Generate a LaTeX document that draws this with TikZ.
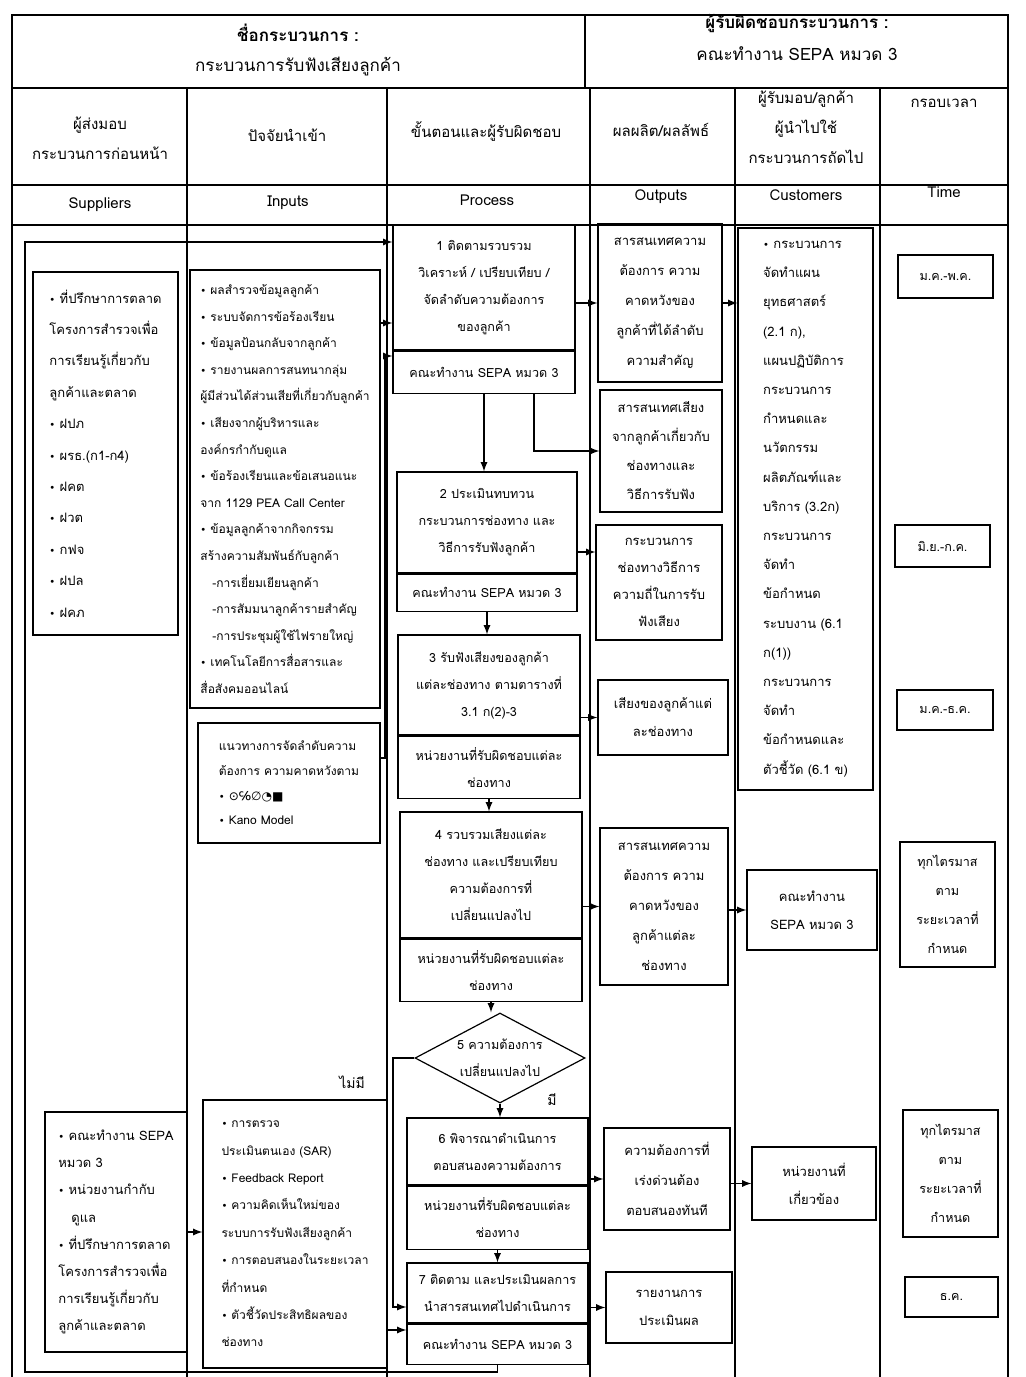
\documentclass[tikz,border=0pt]{standalone}
\usepackage{fontspec}
\setmainfont[Script=Thai]{Loma}
\newfontfamily\symfont{DejaVu Sans}
\usetikzlibrary{positioning}
\usetikzlibrary{arrows}
\usetikzlibrary{shapes.geometric}
\newcommand{\bul}{{\symfont\tiny •}\ }
\tikzset{every node/.style={align=center,
           font=\fontsize{6.3}{13.5}\selectfont},
         box/.style={draw, line width=0.6pt, inner sep=1pt}, % plain box
         listbox/.style={box, align=left, inner sep=3pt},
         headtext/.style={font=\fontsize{7.5}{15}\selectfont},
         decision/.style={draw, line width=0.6pt, diamond, aspect=2,
           inner sep=0pt, minimum width=85pt, minimum height=45pt},
         grid/.style={line width=0.6pt},
         arr/.style={draw, ->, >=latex, line width=0.6pt}}

\begin{document}
\begin{tikzpicture}[x=0.5pt, y=-0.5pt]
  \useasboundingbox (0,0) rectangle (1026,1377);

  % table frame
  \draw[grid] (12,1377) -- (12,15) -- (1008,15) -- (1008,1377);
  \draw[grid] (12,88) -- (1008,88);
  \draw[grid] (12,185) -- (1008,185);
  \draw[grid] (12,225) -- (1008,225);
  \draw[grid] (585,15) -- (585,88);
  \foreach \cx in {187,387,590,735,880}
    \draw[grid] (\cx,88) -- (\cx,1377);

  % heading
  \node[font=\fontsize{8.5}{15}\selectfont] (pname) at (298,50)
    {\bfseries ชื่อกระบวนการ :\\ กระบวนการรับฟังเสียงลูกค้า};
  \node[font=\fontsize{8.5}{16}\selectfont] (powner) at (797,37)
    {\bfseries ผู้รับผิดชอบกระบวนการ :\\ คณะทำงาน SEPA หมวด 3};

  \node[headtext] (hsup) at (100,138) {ผู้ส่งมอบ\\กระบวนการก่อนหน้า};
  \node[headtext] (hinp) at (287,135) {ปัจจัยนำเข้า};
  \node[headtext] (hpro) at (486,132) {ขั้นตอนและผู้รับผิดชอบ};
  \node[headtext] (hout) at (661,130) {ผลผลิต/ผลลัพธ์};
  \node[headtext] (hcus) at (806,127) {ผู้รับมอบ/ลูกค้า\\ผู้นำไปใช้\\กระบวนการถัดไป};
  \node[headtext] (htim) at (944,103) {กรอบเวลา};

  \node[headtext] (esup) at (100,205) {Suppliers};
  \node[headtext] (einp) at (288,203) {Inputs};
  \node[headtext] (epro) at (487,200) {Process};
  \node[headtext] (eout) at (661,197) {Outputs};
  \node[headtext] (ecus) at (806,195) {Customers};
  \node[headtext] (etim) at (944,192) {Time};

  % suppliers
  \node[listbox, minimum width=72.5pt, minimum height=181.5pt,
    font=\fontsize{6.5}{15.7}\selectfont] (sup1) at (105.5,453.5) {
    \bul ที่ปรึกษาการตลาด\\ โครงการสำรวจเพื่อ\\ การเรียนรู้เกี่ยวกับ\\
    ลูกค้าและตลาด\\ \bul ฝปภ\\ \bul ผรธ.(ก1-ก4)\\ \bul ฝคต\\
    \bul ฝวต\\ \bul กฟจ\\ \bul ฝปล\\ \bul ฝคภ};
  \node[listbox, minimum width=71pt, minimum height=120pt,
    font=\fontsize{6.5}{13.6}\selectfont] (sup2) at (116,1232) {
    \bul คณะทำงาน SEPA\\ หมวด 3\\ \bul หน่วยงานกำกับ\\ \quad ดูแล\\
    \bul ที่ปรึกษาการตลาด\\ โครงการสำรวจเพื่อ\\ การเรียนรู้เกี่ยวกับ\\
    ลูกค้าและตลาด};

  % inputs
  \node[listbox, minimum width=95pt, minimum height=219pt,
    font=\fontsize{6}{13.3}\selectfont] (inp1) at (285,489) {
    \bul ผลสำรวจข้อมูลลูกค้า\\ \bul ระบบจัดการข้อร้องเรียน\\
    \bul ข้อมูลป้อนกลับจากลูกค้า\\ \bul รายงานผลการสนทนากลุ่ม\\
    ผู้มีส่วนได้ส่วนเสียที่เกี่ยวกับลูกค้า\\ \bul เสียงจากผู้บริหารและ\\
    องค์กรกำกับดูแล\\ \bul ข้อร้องเรียนและข้อเสนอแนะ\\
    จาก 1129 PEA Call Center\\ \bul ข้อมูลลูกค้าจากกิจกรรม\\
    สร้างความสัมพันธ์กับลูกค้า\\ \quad -การเยี่ยมเยียนลูกค้า\\
    \quad -การสัมมนาลูกค้ารายสำคัญ\\ \quad -การประชุมผู้ใช้ไฟรายใหญ่\\
    \bul เทคโนโลยีการสื่อสารและ\\ สื่อสังคมออนไลน์};
  \node[listbox, minimum width=91pt, minimum height=60pt,
    font=\fontsize{6}{12.3}\selectfont] (inp2) at (289,783) {
    แนวทางการจัดลำดับความ\\ ต้องการ ความคาดหวังตาม\\
    \bul {\symfont ⊙℅∅◔■}\\ \bul Kano Model};
  \node[listbox, minimum width=92pt, minimum height=134pt,
    font=\fontsize{6}{13.7}\selectfont] (inp3) at (295,1234) {
    \bul การตรวจ\\ ประเมินตนเอง (SAR)\\ \bul Feedback Report\\
    \bul ความคิดเห็นใหม่ของ\\ ระบบการรับฟังเสียงลูกค้า\\
    \bul การตอบสนองในระยะเวลา\\ ที่กำหนด\\ \bul ตัวชี้วัดประสิทธิผลของ\\
    ช่องทาง};

  % process steps
  \node[box, minimum width=91pt, minimum height=62.5pt] (step1) at (484,287.5)
    {1 ติดตามรวบรวม\\ วิเคราะห์ / เปรียบเทียบ /\\ จัดลำดับความต้องการ\\ ของลูกค้า};
  \node[box, below=0pt of step1, minimum width=91pt, minimum height=21pt] (resp1)
    {คณะทำงาน SEPA หมวด 3};
  \node[box, minimum width=90pt, minimum height=50.5pt] (step2) at (487,522.5)
    {2 ประเมินทบทวน\\ กระบวนการช่องทาง และ\\ วิธีการรับฟังลูกค้า};
  \node[box, below=0pt of step2, minimum width=90pt, minimum height=18.5pt] (resp2)
    {คณะทำงาน SEPA หมวด 3};
  \node[box, minimum width=91pt, minimum height=50pt] (step3) at (489,685)
    {3 รับฟังเสียงของลูกค้า\\ แต่ละช่องทาง ตามตารางที่\\ 3.1 ก(2)-3};
  \node[box, below=0pt of step3, minimum width=91pt, minimum height=31pt] (resp3)
    {หน่วยงานที่รับผิดชอบแต่ละ\\ ช่องทาง};
  \node[box, minimum width=91pt, minimum height=63pt] (step4) at (491,875)
    {4 รวบรวมเสียงแต่ละ\\ ช่องทาง และเปรียบเทียบ\\ ความต้องการที่\\ เปลี่ยนแปลงไป};
  \node[box, below=0pt of step4, minimum width=91pt, minimum height=31pt] (resp4)
    {หน่วยงานที่รับผิดชอบแต่ละ\\ ช่องทาง};
  \node[decision] (dec5) at (500,1058) {5 ความต้องการ\\ เปลี่ยนแปลงไป};
  \node[box, minimum width=90.5pt, minimum height=33.5pt] (step6) at (497.5,1151.5)
    {6 พิจารณาดำเนินการ\\ ตอบสนองความต้องการ};
  \node[box, below=0pt of step6, minimum width=90.5pt, minimum height=31.5pt] (resp6)
    {หน่วยงานที่รับผิดชอบแต่ละ\\ ช่องทาง};
  \node[box, minimum width=90.5pt, minimum height=30pt] (step7) at (497.5,1293)
    {7 ติดตาม และประเมินผลการ\\ นำสารสนเทศไปดำเนินการ};
  \node[box, below=0pt of step7, minimum width=90.5pt, minimum height=20pt] (resp7)
    {คณะทำงาน SEPA หมวด 3};

  \node[font=\fontsize{7}{8}\selectfont] (yes) at (552,1100) {มี};
  \node[font=\fontsize{7}{8}\selectfont] (no) at (352,1082) {ไม่มี};

  % outputs
  \node[box, minimum width=62pt, minimum height=79pt,
    font=\fontsize{6.5}{15}\selectfont] (out1) at (660,303)
    {สารสนเทศความ\\ ต้องการ ความ\\ คาดหวังของ\\ ลูกค้าที่ได้ลำดับ\\ ความสำคัญ};
  \node[box, minimum width=61pt, minimum height=61pt,
    font=\fontsize{6.5}{14.5}\selectfont] (out2) at (661,451)
    {สารสนเทศเสียง\\ จากลูกค้าเกี่ยวกับ\\ ช่องทางและ\\ วิธีการรับฟัง};
  \node[box, minimum width=63pt, minimum height=57.5pt,
    font=\fontsize{6.5}{13.5}\selectfont] (out3) at (659,582.5)
    {กระบวนการ\\ ช่องทางวิธีการ\\ ความถี่ในการรับ\\ ฟังเสียง};
  \node[box, minimum width=65pt, minimum height=37.5pt,
    font=\fontsize{6.5}{14}\selectfont] (out4) at (663,717.5)
    {เสียงของลูกค้าแต่\\ ละช่องทาง};
  \node[box, minimum width=64pt, minimum height=78.5pt,
    font=\fontsize{6.5}{15}\selectfont] (out5) at (664,906.5)
    {สารสนเทศความ\\ ต้องการ ความ\\ คาดหวังของ\\ ลูกค้าแต่ละ\\ ช่องทาง};
  \node[box, minimum width=63pt, minimum height=51pt,
    font=\fontsize{6.5}{15}\selectfont] (out6) at (667,1179)
    {ความต้องการที่\\ เร่งด่วนต้อง\\ ตอบสนองทันที};
  \node[box, minimum width=63pt, minimum height=35.5pt,
    font=\fontsize{6.5}{14}\selectfont] (out7) at (669,1307.5)
    {รายงานการ\\ ประเมินผล};

  % customers
  \node[listbox, minimum width=67.5pt, minimum height=281pt,
    font=\fontsize{6.5}{14.6}\selectfont] (cus1) at (805.5,509) {
    \bul กระบวนการ\\ จัดทำแผน\\ ยุทธศาสตร์\\ (2.1 ก),\\ แผนปฏิบัติการ\\
    กระบวนการ\\ กำหนดและ\\ นวัตกรรม\\ ผลิตภัณฑ์และ\\ บริการ (3.2ก)\\
    กระบวนการ\\ จัดทำ\\ ข้อกำหนด\\ ระบบงาน (6.1\\ ก(1))\\ กระบวนการ\\
    จัดทำ\\ ข้อกำหนดและ\\ ตัวชี้วัด (6.1 ข)};
  \node[box, minimum width=65pt, minimum height=40pt,
    font=\fontsize{6.5}{14}\selectfont] (cus2) at (812,910)
    {คณะทำงาน\\ SEPA หมวด 3};
  \node[box, minimum width=62pt, minimum height=36.5pt,
    font=\fontsize{6.5}{14}\selectfont] (cus3) at (814,1183.5)
    {หน่วยงานที่\\ เกี่ยวข้อง};

  % time
  \node[box, minimum width=47.5pt, minimum height=21.5pt] (tim1) at (945.5,276.5) {ม.ค.-พ.ค.};
  \node[box, minimum width=47.5pt, minimum height=21pt] (tim2) at (942.5,546) {มิ.ย.-ก.ค.};
  \node[box, minimum width=48pt, minimum height=20pt] (tim3) at (945,710) {ม.ค.-ธ.ค.};
  \node[box, minimum width=47.5pt, minimum height=62.5pt,
    font=\fontsize{6.3}{14.5}\selectfont] (tim4) at (947.5,904.5)
    {ทุกไตรมาส\\ ตาม\\ ระยะเวลาที่\\ กำหนด};
  \node[box, minimum width=47.5pt, minimum height=63.5pt,
    font=\fontsize{6.3}{14.5}\selectfont] (tim5) at (950.5,1173.5)
    {ทุกไตรมาส\\ ตาม\\ ระยะเวลาที่\\ กำหนด};
  \node[box, minimum width=46.5pt, minimum height=20pt] (tim6) at (951.5,1297) {ธ.ค.};

  % bends and levels
  \coordinate (looptop) at (25,242);
  \coordinate (loopbot) at (25,1372);
  \coordinate (inlvl) at (387,323);
  \coordinate (kanobend) at (385,758);
  \coordinate (kanotop) at (385,356);
  \coordinate (o3lvl) at (590,552);
  \coordinate (nojog) at (393,1307);
  \coordinate (revlvl) at (395,1330);

  % flow
  \draw[arr] (resp1.south) -- (resp1.south |- step2.north);
  \draw[arr] (resp2.south) -- (resp2.south |- step3.north);
  \draw[arr] (resp3.south) -- (resp3.south |- step4.north);
  \draw[arr] (resp4.south) -- (resp4.south |- dec5.north);
  \draw[arr] (dec5.south) -- (dec5.south |- step6.north);
  \draw[arr] (resp6.south) -- (resp6.south |- step7.north);
  \draw[arr] (dec5.west) -| (nojog) -- (step7.west |- nojog);
  \draw[arr] (resp7.south) -- (resp7.south |- loopbot) -- (loopbot)
    -- (looptop) -- (step1.west |- looptop);

  % inputs to steps
  \draw[arr] (inp1.east |- inlvl) -- (step1.west |- inlvl);
  \draw[arr] (inp2.east |- kanobend) -- (kanobend) -- (kanotop)
    -- (step1.west |- kanotop);
  \draw[arr] (sup2.east) -- (sup2.east -| inp3.west);
  \draw[arr] (inp3.east |- revlvl) -- (resp7.west |- revlvl);

  % steps to outputs
  \draw[arr] (step1.east |- out1.west) -- (out1.west);
  \draw[arr] ([xshift=25pt]resp1.south) |- (out2.west);
  \draw[arr] (step2.east |- o3lvl) -- (out3.west |- o3lvl);
  \draw[arr] (step3.east |- out4.west) -- (out4.west);
  \draw[arr] (step4.east |- out5.west) -- (out5.west);
  \draw[arr] (step6.east |- out6.west) -- (out6.west);
  \draw[arr] (step7.east |- out7.west) -- (out7.west);

  % outputs to customers
  \draw[arr] (out1.east) -- (out1.east -| cus1.west);
  \draw[arr] (out5.east |- cus2.west) -- (cus2.west);
  \draw[arr] (out6.east |- cus3.west) -- (cus3.west);
\end{tikzpicture}
\end{document}
